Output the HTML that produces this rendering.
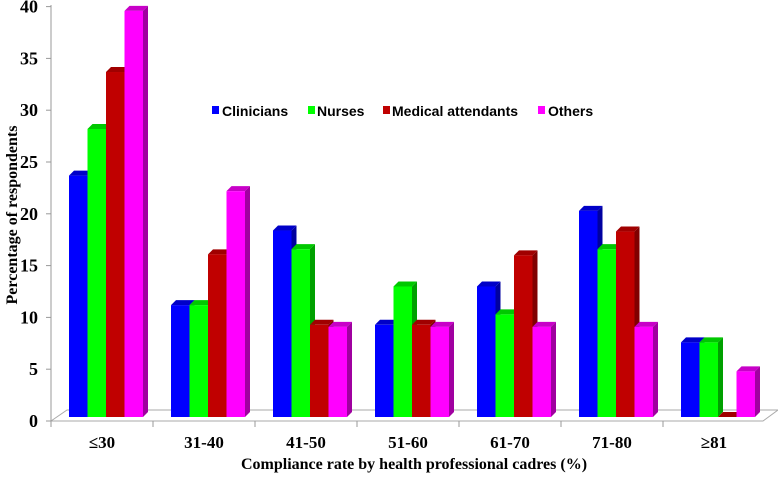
<!DOCTYPE html>
<html><head><meta charset="utf-8"><style>
body{margin:0;background:#fff}
svg text{font-family:"Liberation Serif",serif;font-weight:bold}
</style></head><body>
<svg width="778" height="474">
<g id="axes"></g><g id="bars"></g>
<g font-size="14">
<rect x="212" y="106" width="7" height="8" fill="#0000ff"/><text x="222" y="116" style="font-family:'Liberation Sans',sans-serif">Clinicians</text>
<rect x="308" y="106" width="7" height="8" fill="#00ff00"/><text x="317" y="116" style="font-family:'Liberation Sans',sans-serif">Nurses</text>
<rect x="383" y="106" width="7" height="8" fill="#c00000"/><text x="392" y="116" style="font-family:'Liberation Sans',sans-serif">Medical attendants</text>
<rect x="538" y="106" width="7" height="8" fill="#ff00ff"/><text x="548" y="116" style="font-family:'Liberation Sans',sans-serif">Others</text>
</g>
<text x="0" y="0" transform="translate(17,215) rotate(-90)" text-anchor="middle" font-size="16">Percentage of respondents</text>
<text x="414" y="469" text-anchor="middle" font-size="16">Compliance rate by health professional cadres (%)</text>
</svg>
<script>
const categories=["≤30","31-40","41-50","51-60","61-70","71-80","≥81"];
const clinicians=[23.3,10.8,18,8.9,12.6,19.9,7.2];
const nurses=[27.8,10.8,16.2,12.6,9.9,16.2,7.2];
const attendants=[33.3,15.7,8.9,8.9,15.6,17.9,0];
const others=[39.2,21.8,8.7,8.7,8.7,8.7,4.4];
const yTicks=[0,5,10,15,20,25,30,35,40];
const series=[clinicians,nurses,attendants,others];
const fronts=["#0000ff","#00ff00","#c00000","#ff00ff"];
const sides=["#0000a0","#00a000","#800000","#a000a0"];
const tops=["#0000c8","#00c800","#a00000","#c800c8"];
const names=["clinicians","nurses","attendants","others"];
const NS="http://www.w3.org/2000/svg";
const x0=51,x1=765,base=417,k=10.36;
const cw=(x1-x0)/categories.length;
const y=v=>base-v*k;
const yAxis=v=>420-v*10.36;
function mk(p,t,a){const e=document.createElementNS(NS,t);for(const q in a)e.setAttribute(q,a[q]);p.appendChild(e);return e;}
const ax=document.getElementById('axes'),bg=document.getElementById('bars');
let fl=mk(ax,'polygon',{points:`${x0},421 ${x0+16},410 ${x1+13},410 ${x1-2},421`,fill:'none',stroke:'#aaa','stroke-width':1});


let yl=mk(ax,'line',{x1:x0,y1:5,x2:x0,y2:421,stroke:'#999'});


yTicks.forEach(t=>{
 mk(ax,'line',{x1:x0-5,x2:x0,y1:yAxis(t)+1,y2:yAxis(t)+1,stroke:'#999'});
 const tx=mk(ax,'text',{x:x0-13,y:yAxis(t)+7,'text-anchor':'end','font-size':18});
 tx.textContent=t;
 
 
});
categories.forEach((c,i)=>{
 mk(ax,'line',{x1:x0+i*cw,x2:x0+i*cw,y1:421,y2:427,stroke:'#999'});
 const tx=mk(ax,'text',{x:x0+i*cw+cw/2,y:448,'text-anchor':'middle','font-size':17});
 tx.textContent=c;
 
 
 series.forEach((s,j)=>{
  const bw=18.5,d=5;
  const bx=x0+i*cw+18+j*bw, top=y(s[i]), h=base-top;
  const g=mk(bg,'g',{});
  
  
  mk(g,'polygon',{points:`${bx+bw},${top} ${bx+bw+d},${top-5} ${bx+bw+d},${base-5} ${bx+bw},${base}`,fill:sides[j]});
  mk(g,'polygon',{points:`${bx},${top} ${bx+d},${top-5} ${bx+bw+d},${top-5} ${bx+bw},${top}`,fill:tops[j]});
  mk(g,'rect',{x:bx,y:top,width:bw,height:Math.max(h,0),fill:fronts[j]});
 });
});
</script>
</body></html>
